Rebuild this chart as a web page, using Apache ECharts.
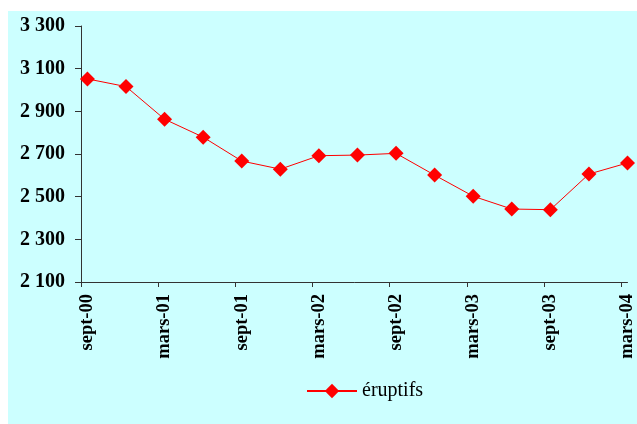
<!DOCTYPE html>
<html>
<head>
<meta charset="utf-8">
<script src="https://cdn.jsdelivr.net/npm/echarts@6/dist/echarts.min.js"></script>
<style>
html, body { margin: 0; background: #fff; }
#chart { width: 637px; height: 424px; }
</style>
</head>
<body>
<div id="chart"></div>
<script>
// quarterly observations, sept-00 .. mars-04
const quarters = ['sept-00', 'déc-00', 'mars-01', 'juin-01', 'sept-01', 'déc-01', 'mars-02', 'juin-02',
	'sept-02', 'déc-02', 'mars-03', 'juin-03', 'sept-03', 'déc-03', 'mars-04'];
const eruptifs = [3052, 3016, 2863, 2779, 2667, 2629, 2692, 2695, 2703, 2601, 2502, 2442, 2439, 2606, 2658];
const yTicks = [2100, 2300, 2500, 2700, 2900, 3100, 3300];
// only every other quarter is labelled on the axis
const shownLabels = ['sept-00', 'mars-01', 'sept-01', 'mars-02', 'sept-02', 'mars-03', 'sept-03', 'mars-04'];

const SERIF = '"Liberation Serif", "Times New Roman", serif';
const RED = '#FF0000';

// x runs in months from 1 sept 2000; each point sits mid-month
const monthOf = (i) => i * 3 + 0.5;
const labelIdx = shownLabels.map((l) => quarters.indexOf(l));

const chart = echarts.init(document.getElementById('chart'));
chart.setOption({
	animation: false,
	textStyle: { fontFamily: SERIF },
	graphic: [{
		type: 'rect', z: -10, silent: true,
		shape: { x: 8, y: 11, width: 629, height: 413 },
		style: { fill: '#CCFFFF' }
	}],
	grid: { left: 81, right: 9, top: 26, bottom: 142, containLabel: false },
	legend: {
		left: 306, top: 381, padding: 0,
		itemWidth: 50, itemHeight: 18, itemGap: 5,
		textStyle: { fontFamily: SERIF, fontSize: 20, color: '#000' },
		data: ['éruptifs']
	},
	xAxis: {
		type: 'value',
		min: 0, max: 42.5,
		axisLine: { show: true, lineStyle: { color: '#333', width: 1 } },
		axisTick: { show: true, length: 5, lineStyle: { color: '#333' }, customValues: labelIdx.map((i) => i * 3) },
		axisLabel: {
			customValues: labelIdx.map(monthOf),
			rotate: 90, margin: 12,
			fontFamily: SERIF, fontWeight: 'bold', fontSize: 18.5, color: '#000',
			formatter: (v) => quarters[Math.round((v - 0.5) / 3)] || ''
		},
		splitLine: { show: false }
	},
	yAxis: {
		type: 'value',
		min: 2100, max: 3300,
		axisLine: { show: true, lineStyle: { color: '#333', width: 1 } },
		axisTick: { show: true, length: 6, lineStyle: { color: '#333' }, customValues: yTicks },
		axisLabel: {
			customValues: yTicks,
			margin: 16,
			fontFamily: SERIF, fontWeight: 'bold', fontSize: 20, color: '#000',
			formatter: (v) => String(v).replace(/\B(?=(\d{3})+(?!\d))/g, ' ')
		},
		splitLine: { show: false }
	},
	series: [{
		name: 'éruptifs',
		type: 'line',
		clip: false,
		data: eruptifs.map((v, i) => [monthOf(i), v]),
		symbol: 'diamond',
		symbolSize: 15,
		itemStyle: { color: RED },
		lineStyle: { color: RED, width: 1 }
	}]
});
</script>
</body>
</html>
